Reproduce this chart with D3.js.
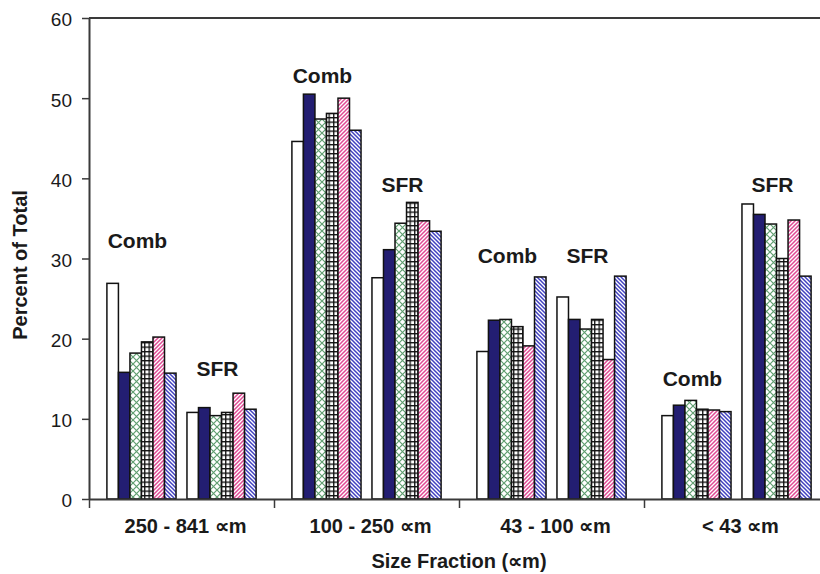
<!DOCTYPE html>
<html>
<head>
<meta charset="utf-8">
<script src="https://cdn.jsdelivr.net/npm/d3@7"></script>
<style>
  html, body { margin: 0; padding: 0; background: #fff; }
  svg { display: block; }
  text { font-family: "Liberation Sans", Arial, sans-serif; fill: #1a1a1a; }
</style>
</head>
<body>
<svg id="chart" width="820" height="574"></svg>
<script>
// ---- data ----
const categories = ["250 - 841 \u221Dm", "100 - 250 \u221Dm", "43 - 100 \u221Dm", "< 43 \u221Dm"];
const subgroups = ["Comb", "SFR"];
const seriesNames = ["Series 1", "Series 2", "Series 3", "Series 4", "Series 5", "Series 6"];
const combValues = [
  [26.9, 15.8, 18.2, 19.6, 20.2, 15.7],
  [44.6, 50.5, 47.4, 48.1, 50.0, 46.0],
  [18.4, 22.3, 22.4, 21.5, 19.1, 27.7],
  [10.4, 11.7, 12.3, 11.2, 11.1, 10.9]
];
const sfrValues = [
  [10.8, 11.4, 10.4, 10.8, 13.2, 11.2],
  [27.6, 31.1, 34.4, 37.0, 34.7, 33.4],
  [25.2, 22.4, 21.2, 22.4, 17.4, 27.8],
  [36.8, 35.5, 34.3, 30.0, 34.8, 27.8]
];
const combLabelLevel = [31.3, 51.9, 29.5, 14.1];
const sfrLabelLevel = [15.3, 38.3, 29.5, 38.3];
const yTicks = [0, 10, 20, 30, 40, 50, 60];
const yTitle = "Percent of Total";
const xTitle = "Size Fraction (\u221Dm)";

// ---- layout ----
const svg = d3.select("#chart");
const mLeft = 89, mRight = 829, mTop = 18, mBottom = 499;

const x0 = d3.scaleBand().domain(categories).range([mLeft, mRight]).padding(0);
const x1 = d3.scaleBand().domain(subgroups).range([0, x0.bandwidth()])
  .paddingInner(0.1366).paddingOuter(0.2236);
const x2 = d3.scaleBand().domain(seriesNames).range([0, x1.bandwidth()]).padding(0);
const y = d3.scaleLinear().domain([0, 60]).range([mBottom, mTop]);

// ---- patterns ----
const defs = svg.append("defs");
function pat(id, w, h, bg, d, stroke, sw) {
  const p = defs.append("pattern").attr("id", id)
    .attr("patternUnits", "userSpaceOnUse").attr("width", w).attr("height", h);
  p.append("rect").attr("width", w).attr("height", h).attr("fill", bg);
  p.append("path").attr("d", d).attr("stroke", stroke).attr("stroke-width", sw)
    .attr("fill", "none");
}
pat("pGreen", 7, 7, "#fff", "M0,0 L7,7 M7,0 L0,7", "#5f9e70", 1.2);
pat("pGrid", 4.5, 4.5, "#fff", "M0,0.7 H4.5 M0.7,0 V4.5", "#111", 1.3);
pat("pPink", 4, 4, "#fff", "M-1,1 L1,-1 M0,4 L4,0 M3,5 L5,3", "#e04a94", 1.5);
pat("pBlue", 4, 4, "#fff", "M-1,3 L1,5 M0,0 L4,4 M3,-1 L5,1", "#4040c0", 1.5);

const fills = ["#ffffff", "#231e72", "url(#pGreen)", "url(#pGrid)", "url(#pPink)", "url(#pBlue)"];

// ---- frame (top border) ----
svg.append("line").attr("x1", mLeft).attr("x2", mRight).attr("y1", y(60)).attr("y2", y(60))
  .attr("stroke", "#3a3a3a").attr("stroke-width", 2);

// ---- bars ----
const rows = [];
categories.forEach((c, ci) => {
  subgroups.forEach(sg => {
    const vals = sg === "Comb" ? combValues[ci] : sfrValues[ci];
    vals.forEach((v, si) => rows.push({ cat: c, sg, series: seriesNames[si], si, v }));
  });
});
svg.append("g").selectAll("rect").data(rows).join("rect")
  .attr("x", d => x0(d.cat) + x1(d.sg) + x2(d.series))
  .attr("y", d => y(d.v))
  .attr("width", x2.bandwidth())
  .attr("height", d => y(0) - y(d.v))
  .attr("fill", d => fills[d.si])
  .attr("stroke", "#111")
  .attr("stroke-width", 1.5);

// ---- subgroup labels ----
const labels = [];
categories.forEach((c, ci) => {
  labels.push({ cat: c, sg: "Comb", lv: combLabelLevel[ci] });
  labels.push({ cat: c, sg: "SFR", lv: sfrLabelLevel[ci] });
});
svg.append("g").selectAll("text").data(labels).join("text")
  .attr("x", d => x0(d.cat) + x1(d.sg) + x1.bandwidth() / 2 - 4)
  .attr("y", d => y(d.lv))
  .attr("text-anchor", "middle")
  .attr("font-weight", "bold")
  .attr("font-size", 21)
  .text(d => d.sg);

// ---- y axis ----
const yAxis = svg.append("g").attr("transform", `translate(${mLeft},0)`)
  .call(d3.axisLeft(y).tickValues(yTicks).tickSize(7).tickPadding(10).tickSizeOuter(0));
yAxis.select(".domain").attr("stroke", "#3a3a3a").attr("stroke-width", 2);
yAxis.selectAll(".tick line").attr("stroke", "#3a3a3a").attr("stroke-width", 1.5);
yAxis.selectAll(".tick text").attr("font-size", 19).attr("dy", "0.42em")
  .attr("font-family", "'Liberation Sans', Arial, sans-serif").attr("fill", "#1a1a1a");

// ---- x axis ----
const xb = d3.scaleLinear().domain([0, categories.length]).range([mLeft, mRight]);
const xAxis = svg.append("g").attr("transform", `translate(0,${mBottom})`)
  .call(d3.axisBottom(xb).ticks(categories.length).tickSize(9).tickFormat("").tickSizeOuter(0));
xAxis.select(".domain").attr("stroke", "#3a3a3a").attr("stroke-width", 2);
xAxis.selectAll(".tick line").attr("stroke", "#3a3a3a").attr("stroke-width", 1.5);

svg.append("g").selectAll("text").data(categories).join("text")
  .attr("x", d => x0(d) + x0.bandwidth() / 2 + 4)
  .attr("y", 533)
  .attr("text-anchor", "middle")
  .attr("font-weight", "bold")
  .attr("font-size", 20)
  .text(d => d);

// ---- titles ----
svg.append("text")
  .attr("x", (mLeft + mRight) / 2)
  .attr("y", 568)
  .attr("text-anchor", "middle")
  .attr("font-weight", "bold")
  .attr("font-size", 20)
  .text(xTitle);

svg.append("text")
  .attr("transform", `translate(27,265) rotate(-90)`)
  .attr("text-anchor", "middle")
  .attr("font-weight", "bold")
  .attr("font-size", 20)
  .text(yTitle);
</script>
</body>
</html>
